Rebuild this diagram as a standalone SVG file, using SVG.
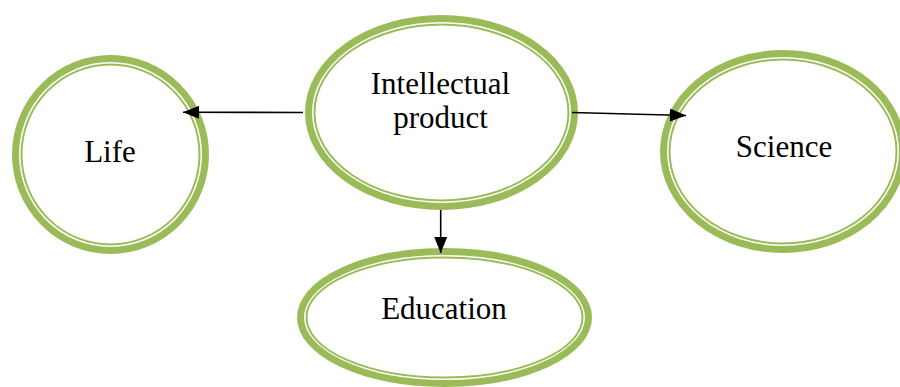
<svg xmlns="http://www.w3.org/2000/svg" width="900" height="387" viewBox="0 0 900 387">
  <style>
    .ring { fill: #ffffff; stroke: #9bbb59; stroke-width: 7; }
    .inner { fill: none; stroke: #9bbb59; stroke-width: 2; }
    .label { font-family: "Liberation Serif", "Times New Roman", serif; font-size: 31px; fill: #000000; text-anchor: middle; }
    .link { stroke: #000000; stroke-width: 1.6; fill: none; marker-end: url(#head); }
  </style>
  <defs>
    <marker id="head" markerUnits="userSpaceOnUse" markerWidth="16" markerHeight="13" refX="16" refY="6.5" orient="auto">
      <path d="M0,0 L16,6.5 L0,13 Z" fill="#000000"/>
    </marker>
  </defs>
  <rect width="900" height="387" fill="#ffffff"/>

  <!-- double-ring nodes: thick outer band, thin inner line -->
  <g id="node-intellectual-product">
    <ellipse class="ring" cx="441.5" cy="112.5" rx="133" ry="94"/>
    <ellipse class="inner" cx="441.5" cy="112.5" rx="127" ry="88"/>
    <text class="label" x="440.5" y="94">Intellectual</text>
    <text class="label" x="440.5" y="128">product</text>
  </g>

  <g id="node-life">
    <ellipse class="ring" cx="110.5" cy="154.5" rx="95" ry="96"/>
    <ellipse class="inner" cx="110.5" cy="154.5" rx="89" ry="90"/>
    <text class="label" x="110" y="162">Life</text>
  </g>

  <g id="node-science">
    <ellipse class="ring" cx="783" cy="151.5" rx="119.5" ry="98"/>
    <ellipse class="inner" cx="783" cy="151.5" rx="113.5" ry="92"/>
    <text class="label" x="784" y="157">Science</text>
  </g>

  <g id="node-education">
    <ellipse class="ring" cx="444.5" cy="317.5" rx="144" ry="66"/>
    <ellipse class="inner" cx="444.5" cy="317.5" rx="138" ry="60"/>
    <text class="label" x="444" y="319">Education</text>
  </g>

  <g id="connectors">
    <line class="link" x1="303" y1="112.5" x2="183" y2="112.3"/>
    <line class="link" x1="572" y1="112.5" x2="686" y2="115.5"/>
    <line class="link" x1="440.7" y1="210" x2="440.7" y2="253"/>
  </g>
</svg>
